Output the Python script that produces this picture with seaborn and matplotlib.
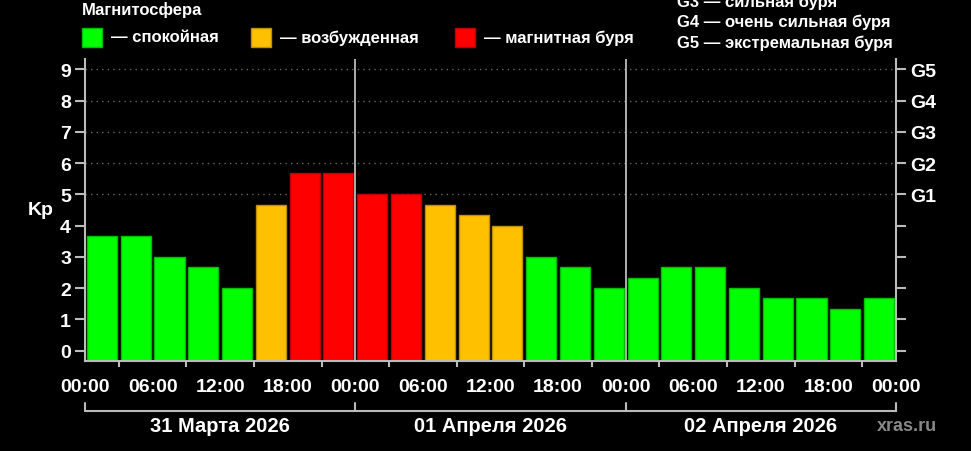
import matplotlib
matplotlib.use('Agg')
import matplotlib.pyplot as plt
import matplotlib.colors as mcolors
from matplotlib.patches import Rectangle
import seaborn as sns
import pandas as pd

# Kp index, 3-hour slots, 31 Mar - 02 Apr 2026
kp = [3.67, 3.67, 3.0, 2.67, 2.0, 4.67, 5.67, 5.67,
      5.0, 5.0, 4.67, 4.33, 4.0, 3.0, 2.67, 2.0,
      2.33, 2.67, 2.67, 2.0, 1.67, 1.67, 1.33, 1.67]
state = ['calm'] * 5 + ['active'] + ['storm'] * 4 + ['active'] * 3 + ['calm'] * 11
days = ['31 Марта 2026', '01 Апреля 2026', '02 Апреля 2026']
hour_labels = ['00:00', '06:00', '12:00', '18:00']
g_labels = ['G1', 'G2', 'G3', 'G4', 'G5']
palette = {'calm': '#00ff00', 'active': '#ffc000', 'storm': '#ff0000'}

W, H = 971, 452

sns.set_style('dark')
plt.rcParams['font.family'] = ['Liberation Sans', 'DejaVu Sans']

df = pd.DataFrame({'slot': range(len(kp)), 'kp': kp, 'state': state})

fig = plt.figure(figsize=(W / 100, H / 100), dpi=100, facecolor='black')
ax = fig.add_axes([85 / W, 1 - 362 / H, 811 / W, 302 / H])
ax.set_facecolor('black')

sns.barplot(data=df, x='slot', y='kp', hue='state', palette=palette,
            dodge=False, legend=False, width=0.89, saturation=1, ax=ax,
            zorder=2)

ymin = -0.33
for p in ax.patches:
    fc = mcolors.to_rgb(p.get_facecolor())
    p.set_edgecolor(tuple(c * 0.75 for c in fc))
    p.set_linewidth(1)
    h = p.get_height()
    p.set_y(ymin)
    p.set_height(h - ymin)

ax.set_xlim(-0.5, len(kp) - 0.5)
ax.set_ylim(ymin, 9.33)

# dotted storm-level lines
ax.hlines(range(5, 10), -0.5, len(kp) - 0.5, colors='#666666',
          linestyles=(0, (1, 3)), linewidth=1, zorder=1)
# day separators
for d in range(1, len(days)):
    ax.axvline(d * 8 - 0.5, color='#cccccc', lw=1.2, zorder=3)

ax.grid(False)
for s in ax.spines.values():
    s.set_color('#bbbbbb')
    s.set_linewidth(1.5)
ax.spines['top'].set_visible(False)

# x ticks
ax.set_xticks([i - 0.5 for i in range(0, len(kp) + 1, 2)])
ax.set_xticklabels([hour_labels[(i // 2) % 4] for i in range(0, len(kp) + 1, 2)])
ax.set_xticks([i - 0.5 for i in range(1, len(kp), 2)], minor=True)
ax.tick_params(axis='x', which='major', length=8, width=1.5, color='#bbbbbb',
               labelcolor='white', labelsize=14, pad=4)
ax.tick_params(axis='x', which='minor', length=4, width=1.5, color='#bbbbbb',
               bottom=True)
ax.set_yticks(range(10))
ax.tick_params(axis='y', length=7, width=1.5, color='#bbbbbb',
               labelcolor='white', labelsize=14, pad=3)
for lbl in ax.get_xticklabels() + ax.get_yticklabels():
    lbl.set_fontweight('bold')
ax.set_xlabel('')
ax.set_ylabel('Kp', color='white', fontsize=14, fontweight='bold',
              rotation=0, va='center', ha='center')
ax.yaxis.set_label_coords(-0.055, 0.5)

# right G-scale axis
ax2 = ax.twinx()
ax2.set_ylim(ax.get_ylim())
ax2.set_yticks(range(10))
ax2.set_yticklabels([''] * 5 + g_labels)
ax2.tick_params(axis='y', length=7, width=1.5, color='#bbbbbb',
                labelcolor='white', labelsize=14, pad=3)
for lbl in ax2.get_yticklabels():
    lbl.set_fontweight('bold')
for s in ax2.spines.values():
    s.set_visible(False)
ax2.grid(False)

# day brackets below x axis
tr = ax.get_xaxis_transform()
yb = (362 - 412) / 302
yt = (362 - 404) / 302
ax.plot([-0.5, len(kp) - 0.5], [yb, yb], color='#bbbbbb', lw=1.5,
        transform=tr, clip_on=False)
for d in range(len(days) + 1):
    ax.plot([d * 8 - 0.5] * 2, [yb, yt], color='#bbbbbb', lw=1.5,
            transform=tr, clip_on=False)
for d, name in enumerate(days):
    ax.text(d * 8 + 3.5, (362 - 427) / 302, name, transform=tr, ha='center',
            va='center', color='white', fontsize=14.5, fontweight='bold')
fig.text(907 / W, 1 - 427 / H, 'xras.ru', ha='center', va='center',
         color='#888888', fontsize=13, fontweight='bold')

# top legend
fig.text(82 / W, 1 - 10 / H, 'Магнитосфера', color='white', fontsize=12,
         fontweight='bold', va='center', ha='left')
for x0, key, txt in [(82, 'calm', '— спокойная'),
                     (251, 'active', '— возбужденная'),
                     (455, 'storm', '— магнитная буря')]:
    fig.patches.append(Rectangle((x0 / W, 1 - 48 / H), 20 / W, 19 / H,
                                 transform=fig.transFigure,
                                 facecolor=palette[key],
                                 edgecolor=tuple(c * 0.75 for c in mcolors.to_rgb(palette[key])),
                                 lw=1))
    fig.text((x0 + 29) / W, 1 - 38 / H, txt, color='white', fontsize=12,
             fontweight='bold', va='center', ha='left')
for i, txt in enumerate(['G3 — сильная буря', 'G4 — очень сильная буря',
                         'G5 — экстремальная буря']):
    fig.text(677 / W, 1 - (2 + 20.5 * i) / H, txt, color='white', fontsize=12,
             fontweight='bold', va='center', ha='left')

fig.savefig('out.png', dpi=100, facecolor='black')
